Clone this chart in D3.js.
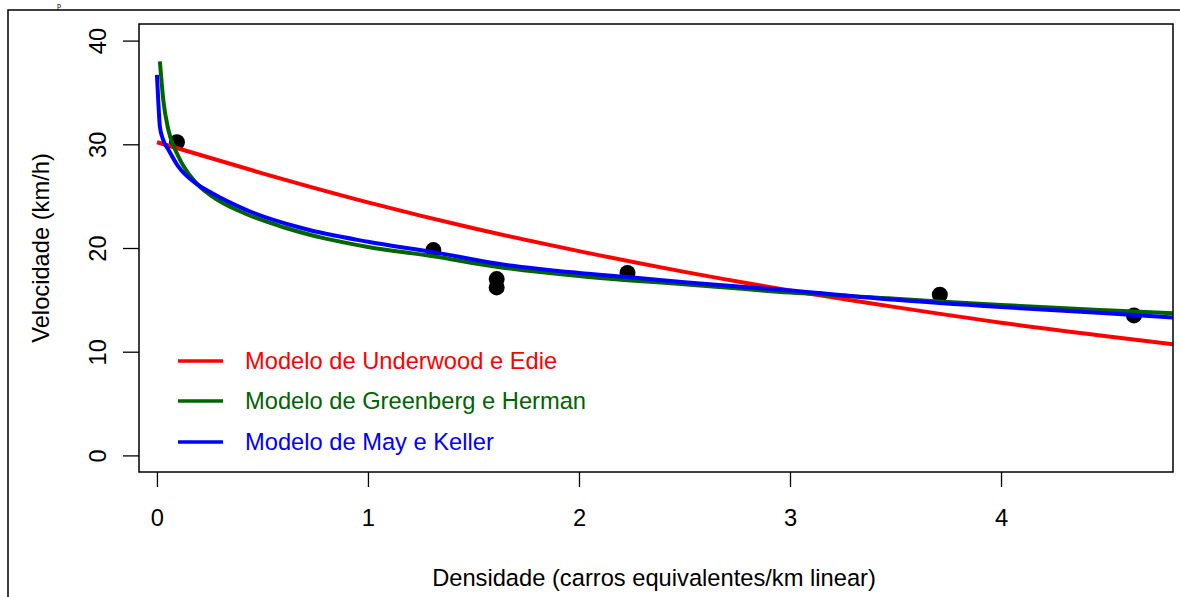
<!DOCTYPE html>
<html>
<head>
<meta charset="utf-8">
<script src="https://cdn.jsdelivr.net/npm/d3@7"></script>
<style>
  html, body { margin: 0; padding: 0; background: #fff; }
  svg { display: block; }
  text { font-family: "Liberation Sans", Arial, sans-serif; }
</style>
</head>
<body>
<svg id="chart" width="1180" height="597"></svg>
<script>
// ---- data ----
const pointX = [0.095, 1.31, 1.61, 1.61, 2.23, 3.71, 4.63];
const pointY = [30.2, 19.8, 17.0, 16.2, 17.6, 15.5, 13.5];

const underwoodX = [0, 0.5, 1, 1.5, 2, 2.5, 3, 3.5, 4, 4.5, 4.82];
const underwoodY = [30.2, 27.2, 24.4, 21.9, 19.7, 17.7, 15.9, 14.3, 12.8, 11.5, 10.7];

const greenbergX = [0.014, 0.03, 0.054, 0.1, 0.18, 0.26, 0.42, 0.6, 0.8, 1.0, 1.31, 1.61, 2.0, 2.23, 2.5, 3.0, 3.5, 4.0, 4.5, 4.82];
const greenbergY = [38.0, 34.3, 31.4, 28.9, 26.4, 25.0, 23.3, 22.0, 20.9, 20.1, 19.2, 18.2, 17.3, 16.9, 16.5, 15.7, 15.1, 14.5, 14.0, 13.7];

const mayKellerX = [0.0, 0.006, 0.014, 0.03, 0.054, 0.1, 0.18, 0.26, 0.42, 0.69, 1.0, 1.31, 1.61, 2.0, 2.23, 2.5, 3.0, 3.5, 4.0, 4.5, 4.82];
const mayKellerY = [36.7, 34.3, 31.7, 30.4, 29.5, 27.9, 26.3, 25.3, 23.7, 21.9, 20.6, 19.6, 18.5, 17.6, 17.2, 16.7, 15.9, 15.0, 14.3, 13.7, 13.3];

const xTicks = [0, 1, 2, 3, 4];
const yTicks = [0, 10, 20, 30, 40];

const seriesNames = ["Modelo de Underwood e Edie", "Modelo de Greenberg e Herman", "Modelo de May e Keller"];
const seriesColors = ["#ff0000", "#006400", "#0000ff"];

const xTitle = "Densidade (carros equivalentes/km linear)";
const yTitle = "Velocidade (km/h)";

// ---- drawing ----
const svg = d3.select("#chart");
const plot = { left: 139, right: 1173, top: 24, bottom: 472 };
const FS = 23.7;

const x = d3.scaleLinear().domain([-0.085, 4.815]).range([plot.left, plot.right]);
const y = d3.scaleLinear().domain([-1.6, 41.6]).range([plot.bottom, plot.top]);

// outer frame (extends off image on right and bottom)
svg.append("rect")
  .attr("x", 8).attr("y", 10).attr("width", 1200).attr("height", 620)
  .attr("fill", "none").attr("stroke", "#000").attr("stroke-width", 1.5);

// small "p" at top (caption remnant in the reference)
svg.append("text").attr("x", 57).attr("y", 7.5)
  .style("font-family", "'Liberation Serif', 'Times New Roman', serif")
  .style("font-size", "8px").text("p");

svg.append("defs").append("clipPath").attr("id", "clip")
  .append("rect")
  .attr("x", plot.left).attr("y", plot.top)
  .attr("width", plot.right - plot.left).attr("height", plot.bottom - plot.top);

// axes
const xAxis = svg.append("g")
  .attr("transform", `translate(0,${plot.bottom})`)
  .call(d3.axisBottom(x).tickValues(xTicks).tickSize(15).tickPadding(22).tickFormat(d3.format("d")));
xAxis.select(".domain").remove();
xAxis.selectAll("line").attr("stroke", "#000").attr("stroke-width", 1.3);
xAxis.selectAll("text").style("font-size", FS + "px").attr("fill", "#000")
  .style("font-family", "'Liberation Sans', Arial, sans-serif");

const yAxis = svg.append("g")
  .attr("transform", `translate(${plot.left},0)`)
  .call(d3.axisLeft(y).tickValues(yTicks).tickSize(16).tickFormat(d3.format("d")));
yAxis.select(".domain").remove();
yAxis.selectAll("line").attr("stroke", "#000").attr("stroke-width", 1.3);
yAxis.selectAll("text")
  .attr("x", null).attr("dy", null)
  .attr("text-anchor", "middle")
  .attr("dominant-baseline", "central")
  .attr("transform", "translate(-41,0) rotate(-90)")
  .style("font-size", FS + "px").attr("fill", "#000")
  .style("font-family", "'Liberation Sans', Arial, sans-serif");

// axis titles
svg.append("text")
  .attr("x", (plot.left + plot.right) / 2 - 2).attr("y", 578)
  .attr("text-anchor", "middle").attr("dominant-baseline", "central")
  .style("font-size", FS + "px").text(xTitle);
svg.append("text")
  .attr("transform", `translate(41,${(plot.top + plot.bottom) / 2}) rotate(-90)`)
  .attr("text-anchor", "middle").attr("dominant-baseline", "central")
  .style("font-size", FS + "px").text(yTitle);

// points (drawn before curves)
const pts = pointX.map((d, i) => ({ x: d, y: pointY[i] }));
svg.append("g").selectAll("circle").data(pts).join("circle")
  .attr("cx", d => x(d.x)).attr("cy", d => y(d.y)).attr("r", 8)
  .attr("fill", "#000");

// curves
const line = d3.line().x(d => x(d.x)).y(d => y(d.y)).curve(d3.curveMonotoneX);
const series = [
  { xs: underwoodX, ys: underwoodY },
  { xs: greenbergX, ys: greenbergY },
  { xs: mayKellerX, ys: mayKellerY }
];
const curves = svg.append("g").attr("clip-path", "url(#clip)");
series.forEach((s, i) => {
  const data = s.xs.map((d, j) => ({ x: d, y: s.ys[j] }));
  curves.append("path").datum(data)
    .attr("d", line)
    .attr("fill", "none")
    .attr("stroke", seriesColors[i])
    .attr("stroke-width", 4)
    .attr("stroke-linejoin", "round");
});

// plot box
svg.append("rect")
  .attr("x", plot.left).attr("y", plot.top)
  .attr("width", plot.right - plot.left).attr("height", plot.bottom - plot.top)
  .attr("fill", "none").attr("stroke", "#000").attr("stroke-width", 1.5);

// legend
const legendY = [361, 401, 442];
const leg = svg.append("g");
seriesNames.forEach((name, i) => {
  leg.append("line")
    .attr("x1", 178).attr("x2", 223)
    .attr("y1", legendY[i]).attr("y2", legendY[i])
    .attr("stroke", seriesColors[i]).attr("stroke-width", 3.5);
  leg.append("text")
    .attr("x", 245).attr("y", legendY[i])
    .attr("dominant-baseline", "central")
    .attr("fill", seriesColors[i])
    .style("font-size", FS + "px")
    .text(name);
});
</script>
</body>
</html>
